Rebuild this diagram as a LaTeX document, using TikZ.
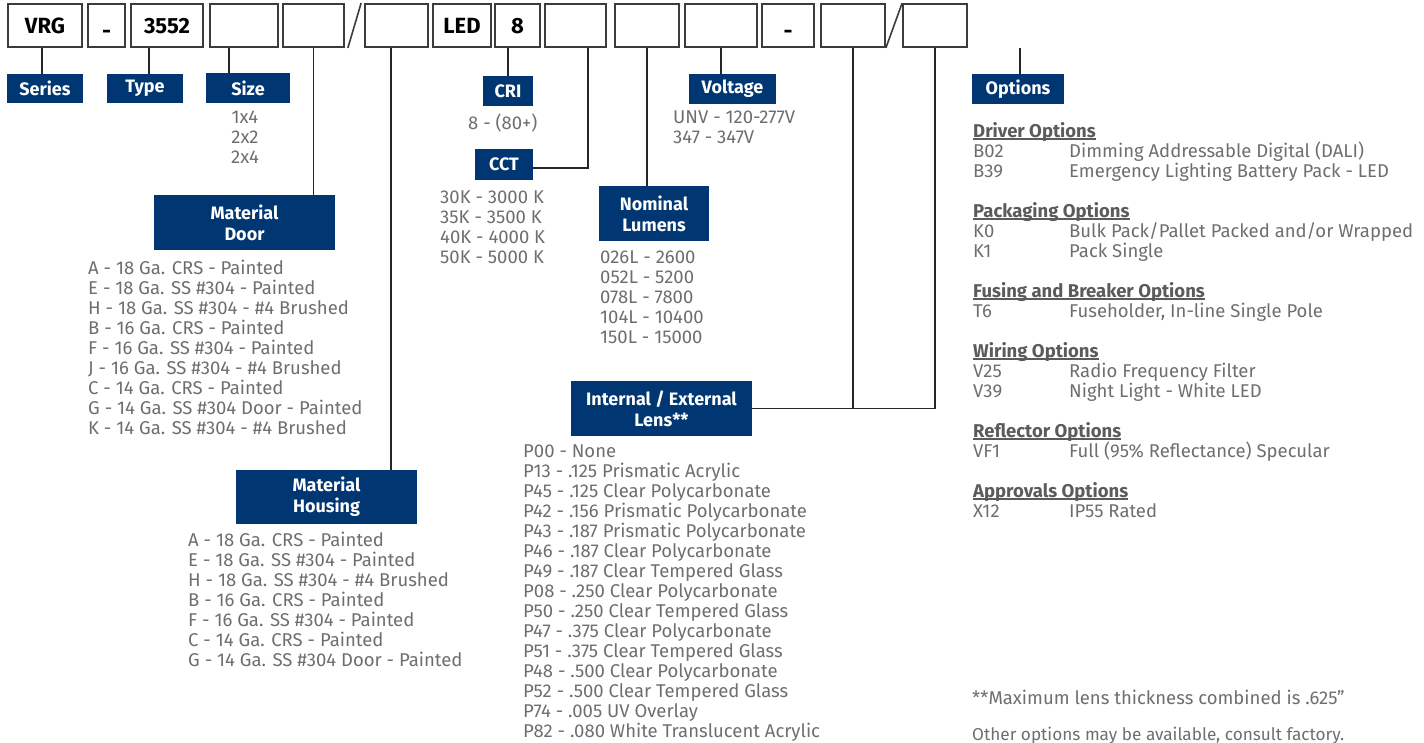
\documentclass[tikz,border=0pt]{standalone}
\usepackage{fontspec}
\setmainfont{Fira Sans}
\definecolor{navy}{HTML}{003671}
\definecolor{txtgray}{HTML}{6D6E71}
\definecolor{hdgray}{HTML}{5A5B5D}
\definecolor{boxline}{HTML}{3C3C3C}
\newcommand\ulin[1]{\setbox0\hbox{#1}\rlap{\rule[-2.5pt]{\wd0}{1.1pt}}\box0}
\begin{document}
\begin{tikzpicture}[x=1pt,y=-1pt,
  codebox/.style={draw=boxline, line width=1.8pt, minimum height=43pt, inner sep=0pt, text height=16pt, text depth=0pt, font=\fontsize{22}{24}\selectfont\bfseries, text=black},
  tag/.style={fill=navy, text=white, inner sep=0pt, font=\fontsize{18}{21}\selectfont\bfseries, align=center},
  lst/.style={inner sep=0pt, anchor=base west, text=txtgray, font=\fontsize{18.5}{20}\selectfont},
  hd/.style={inner sep=0pt, anchor=base west, text=hdgray, font=\fontsize{18.5}{20}\selectfont\bfseries},
  conn/.style={line width=1.5pt, draw=black!85}]
\useasboundingbox (0,0) rectangle (1424,742);
% code boxes
\node[codebox, minimum width=74pt] (b1) at (45,25.5) {VRG};
\node[codebox, minimum width=37pt] (b2) at (106.5,25.5) {\raisebox{-5pt}{-}};
\node[codebox, minimum width=72pt] (b3) at (167,25.5) {3552};
\node[codebox, minimum width=68pt] (b4) at (244,25.5) {};
\node[codebox, minimum width=61pt] (b5) at (313.5,25.5) {};
\node[codebox, minimum width=63pt] (b6) at (396.5,25.5) {};
\node[codebox, minimum width=58pt] (b7) at (462,25.5) {LED};
\node[codebox, minimum width=45pt] (b8) at (517.5,25.5) {8};
\node[codebox, minimum width=61pt] (b9) at (575.5,25.5) {};
\node[codebox, minimum width=64pt] (b10) at (647,25.5) {};
\node[codebox, minimum width=72pt] (b11) at (721,25.5) {};
\node[codebox, minimum width=52pt] (b12) at (788,25.5) {\raisebox{-5pt}{-}};
\node[codebox, minimum width=64pt] (b13) at (853,25.5) {};
\node[codebox, minimum width=64pt] (b14) at (935,25.5) {};
\draw[line width=1.6pt, boxline] ([xshift=3pt]b5.south east) -- ([xshift=-3pt]b6.north west);
\draw[line width=1.6pt, boxline] (b13.south east) -- (b14.north west);
% tags
\node[tag, minimum width=76pt, minimum height=29pt] (series) at (45,88.5) {Series};
\node[tag, minimum width=76pt, minimum height=29pt] (type) at (145,88.5) {Type};
\node[tag, minimum width=84pt, minimum height=30pt] (size) at (248,88) {Size};
\node[tag, minimum width=181pt, minimum height=55pt] (door) at (244.5,222.5) {Material\\Door};
\node[tag, minimum width=181pt, minimum height=54pt] (housing) at (326.5,497) {Material\\Housing};
\node[tag, minimum width=50pt, minimum height=30pt] (cri) at (508,91) {CRI};
\node[tag, minimum width=58pt, minimum height=31pt] (cct) at (504,164.5) {CCT};
\node[tag, minimum width=110pt, minimum height=55pt] (lumens) at (654,213.5) {Nominal\\Lumens};
\node[tag, minimum width=87pt, minimum height=30pt] (voltage) at (732.5,89) {Voltage};
\node[tag, minimum width=181pt, minimum height=55pt] (lens) at (661.5,408.5) {Internal / External\\Lens**};
\node[tag, minimum width=92pt, minimum height=30pt] (options) at (1018,89) {Options};
% connectors
\draw[conn] ([xshift=-3pt]series.north) -- ([xshift=-3pt]series.north |- b1.south);
\draw[conn] ([xshift=4pt]type.north) -- ([xshift=4pt]type.north |- b3.south);
\draw[conn] ([xshift=-15pt]b4.south) -- ([xshift=-15pt]b4.south |- size.north);
\draw[conn] (b5.south) -- (b5.south |- door.north);
\draw[conn] ([xshift=-5.5pt]b6.south) -- ([xshift=-5.5pt]b6.south |- housing.north);
\draw[conn] (cri.north |- b8.south) -- (cri.north);
\draw[conn] ([xshift=12.5pt]b9.south) |- ([yshift=-3.5pt]cct.east);
\draw[conn] (b10.south) -- (b10.south |- lumens.north);
\draw[conn] (b11.south) -- (b11.south |- voltage.north);
\draw[conn] (lens.east) -| (b14.south);
\draw[conn] (b13.south) -- (b13.south |- lens.east);
\coordinate (optop) at (1020,48);
\draw[conn] (optop) -- (optop |- options.north);
% lists
\foreach \t [count=\i] in {1x4,2x2,2x4}
  \node[lst, anchor=base] (sz\i) at (245,{103+20*\i}) {\t};
\foreach \t [count=\i] in {A - 18 Ga. CRS - Painted, E - 18 Ga. SS \#304 - Painted, H - 18 Ga. SS \#304 - \#4 Brushed, B - 16 Ga. CRS - Painted, F - 16 Ga. SS \#304 - Painted, J - 16 Ga. SS \#304 - \#4 Brushed, C - 14 Ga. CRS - Painted, G - 14 Ga. SS \#304 Door - Painted, K - 14 Ga. SS \#304 - \#4 Brushed}
  \node[lst] (dr\i) at (88,{254+20*\i}) {\t};
\foreach \t [count=\i] in {A - 18 Ga. CRS - Painted, E - 18 Ga. SS \#304 - Painted, H - 18 Ga. SS \#304 - \#4 Brushed, B - 16 Ga. CRS - Painted, F - 16 Ga. SS \#304 - Painted, C - 14 Ga. CRS - Painted, G - 14 Ga. SS \#304 Door - Painted}
  \node[lst] (hs\i) at (188,{526.5+20*\i}) {\t};
\node[lst] (crival) at (468,129) {8 - (80+)};
\foreach \t [count=\i] in {30K - 3000 K, 35K - 3500 K, 40K - 4000 K, 50K - 5000 K}
  \node[lst] (cc\i) at (440,{183+20*\i}) {\t};
\foreach \t [count=\i] in {026L - 2600, 052L - 5200, 078L - 7800, 104L - 10400, 150L - 15000}
  \node[lst] (lm\i) at (600,{243+20*\i}) {\t};
\foreach \t [count=\i] in {UNV - 120-277V, 347 - 347V}
  \node[lst] (vt\i) at (673,{103+20*\i}) {\t};
\foreach \t [count=\i] in {P00 - None, P13 - .125 Prismatic Acrylic, P45 - .125 Clear Polycarbonate, P42 - .156 Prismatic Polycarbonate, P43 - .187 Prismatic Polycarbonate, P46 - .187 Clear Polycarbonate, P49 - .187 Clear Tempered Glass, P08 - .250 Clear Polycarbonate, P50 - .250 Clear Tempered Glass, P47 - .375 Clear Polycarbonate, P51 - .375 Clear Tempered Glass, P48 - .500 Clear Polycarbonate, P52 - .500 Clear Tempered Glass, P74 - .005 UV Overlay, P82 - .080 White Translucent Acrylic}
  \node[lst] (ln\i) at (523,{437+20*\i}) {\t};
% options
\node[hd] (hdrv) at (973,137) {\ulin{Driver Options}};
\node[hd] (hpck) at (973,217) {\ulin{Packaging Options}};
\node[hd] (hfus) at (973,297) {\ulin{Fusing and Breaker Options}};
\node[hd] (hwir) at (973,357) {\ulin{Wiring Options}};
\node[hd] (href) at (973,437) {\ulin{Reflector Options}};
\node[hd] (happ) at (973,497) {\ulin{Approvals Options}};
\foreach \y/\c/\d in {157/B02/{Dimming Addressable Digital (DALI)}, 177/B39/{Emergency Lighting Battery Pack - LED}, 237/K0/{Bulk Pack/Pallet Packed and/or Wrapped}, 257/K1/{Pack Single}, 317/T6/{Fuseholder, In-line Single Pole}, 377/V25/{Radio Frequency Filter}, 397/V39/{Night Light - White LED}, 457/VF1/{Full (95\% Reflectance) Specular}, 517/X12/{IP55 Rated}}{
  \node[lst] (oc\y) at (973,\y) {\c};
  \node[lst] (od\y) at (1069,\y) {\d};
}
\node[lst] (note1) at (972,704) {**Maximum lens thickness combined is .625”};
\node[lst, font=\fontsize{17.2}{20}\selectfont] (note2) at (972,740) {Other options may be available, consult factory.};
\end{tikzpicture}
\end{document}
